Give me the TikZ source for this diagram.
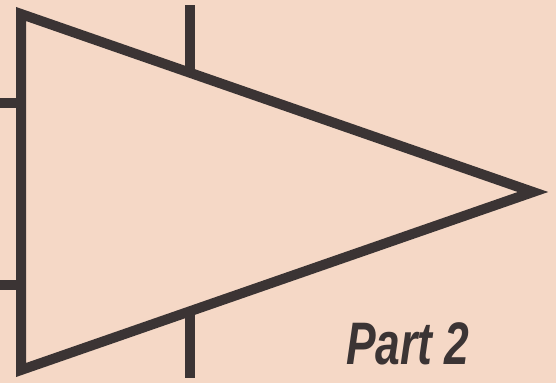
\documentclass[tikz,border=0pt]{standalone}
\usepackage{fontspec}
\setmainfont{Liberation Sans}
\definecolor{paper}{HTML}{F5D8C6}
\definecolor{ink}{HTML}{3B3434}
\tikzset{
  wire/.style={draw=ink, line width=10pt, line cap=butt, line join=miter},
  label/.style={text=ink, font=\fontsize{60}{62}\selectfont\bfseries\itshape, inner sep=0pt, anchor=center}
}
\begin{document}
\begin{tikzpicture}[x=1pt,y=-1pt]
  \fill[paper] (0,0) rectangle (556,383);
  \useasboundingbox (0,0) rectangle (556,383);
  % triangle vertices
  \coordinate (tl) at (21,14);
  \coordinate (bl) at (21,370);
  \coordinate (ap) at (533,192);
  \draw[wire] (tl) -- (ap) -- (bl) -- cycle;
  % stubs
  \coordinate (in1) at (0,103);
  \coordinate (in1e) at (21,103);
  \coordinate (in2) at (0,285);
  \coordinate (in2e) at (21,285);
  \coordinate (topend) at (190,5);
  \coordinate (topj) at (190,72);
  \coordinate (botj) at (190,310);
  \coordinate (botend) at (190,378);
  \draw[wire] (in1) -- (in1e);
  \draw[wire] (in2) -- (in2e);
  \draw[wire] (topend) -- (topj);
  \draw[wire] (botj) -- (botend);
  \node[label, xscale=0.74] (part) at (408,344) {Part 2};
\end{tikzpicture}
\end{document}
